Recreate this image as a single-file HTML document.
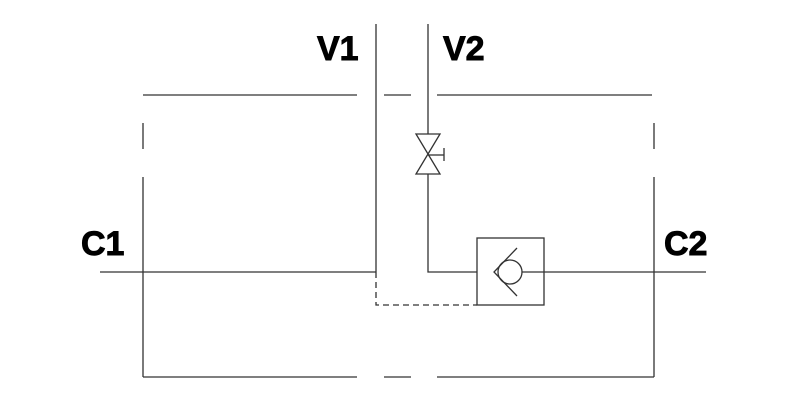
<!DOCTYPE html>
<html><head><style>body{margin:0;background:#fff}svg{display:block}</style></head><body>
<svg width="800" height="400" xmlns="http://www.w3.org/2000/svg">
<g stroke="#333" stroke-width="1.3" fill="none">
<line x1="143" y1="95" x2="357" y2="95"/><line x1="384" y1="95" x2="411" y2="95"/><line x1="437" y1="95" x2="652" y2="95"/>
<line x1="143" y1="377" x2="357" y2="377"/><line x1="384" y1="377" x2="411" y2="377"/><line x1="437" y1="377" x2="654" y2="377"/>
<line x1="143" y1="123" x2="143" y2="149"/><line x1="143" y1="177" x2="143" y2="377"/>
<line x1="654" y1="123" x2="654" y2="149"/><line x1="654" y1="177" x2="654" y2="377"/>
<line x1="100" y1="272" x2="376" y2="272"/>
<line x1="376" y1="24" x2="376" y2="272"/>
<line x1="428" y1="24" x2="428" y2="134"/>
<path d="M416 134 L440 134 L416 174 L440 174 Z"/>
<line x1="428" y1="155" x2="444" y2="155"/><line x1="444" y1="148" x2="444" y2="161"/>
<polyline points="428,174 428,272 477,272"/>
<rect x="477" y="238" width="67" height="67"/>
<circle cx="510" cy="272" r="12"/>
<polyline points="517,248 494,272 517,296"/>
<line x1="522" y1="272" x2="706" y2="272"/>
<polyline points="376,272 376,305 477,305" stroke-dasharray="6,4"/>
</g>
<g font-family="Liberation Sans, sans-serif" font-weight="bold" font-size="34" fill="#000" stroke="#000" stroke-width="0.9">
<text x="317" y="60">V1</text><text x="443" y="60">V2</text>
<text x="81" y="255">C1</text><text x="664" y="255">C2</text>
</g>
</svg>
</body></html>
